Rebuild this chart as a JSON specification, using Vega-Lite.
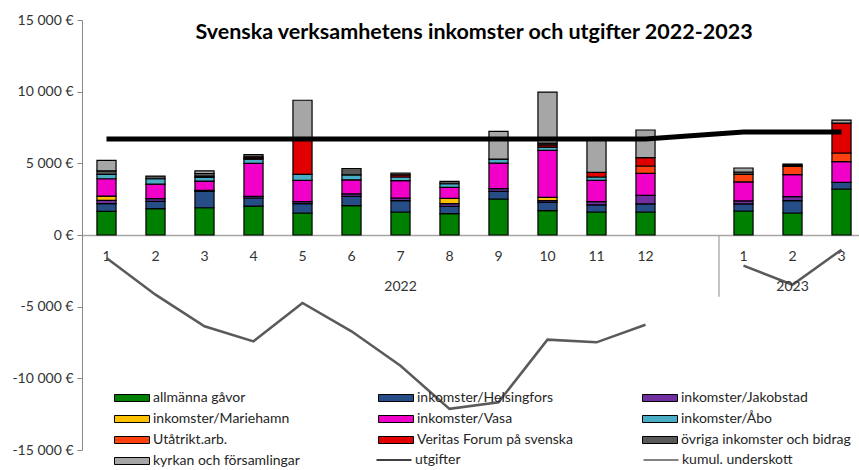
{
  "$schema": "https://vega.github.io/schema/vega-lite/v6.json",
  "width": 784,
  "height": 430,
  "autosize": {"type": "none"},
  "padding": {"left": 82, "top": 20, "right": 0, "bottom": 20},
  "background": "white",
  "config": {"font": "Lato", "view": {"stroke": null}},
  "title": {
    "text": "Svenska verksamhetens inkomster och utgifter 2022-2023",
    "fontSize": 21.5,
    "fontWeight": "bold",
    "font": "Lato",
    "color": "#000000",
    "anchor": "middle",
    "frame": "group",
    "baseline": "middle",
    "offset": -41
  },
  "datasets": {
    "bars": [
      {"cat": "2022-1", "series": "allmänna gåvor", "value": 1650},
      {"cat": "2022-1", "series": "inkomster/Helsingfors", "value": 535},
      {"cat": "2022-1", "series": "inkomster/Jakobstad", "value": 230},
      {"cat": "2022-1", "series": "inkomster/Mariehamn", "value": 300},
      {"cat": "2022-1", "series": "inkomster/Vasa", "value": 1210},
      {"cat": "2022-1", "series": "inkomster/Åbo", "value": 300},
      {"cat": "2022-1", "series": "övriga inkomster och bidrag", "value": 255},
      {"cat": "2022-1", "series": "kyrkan och församlingar", "value": 720},
      {"cat": "2022-2", "series": "allmänna gåvor", "value": 1840},
      {"cat": "2022-2", "series": "inkomster/Helsingfors", "value": 510},
      {"cat": "2022-2", "series": "inkomster/Jakobstad", "value": 185},
      {"cat": "2022-2", "series": "inkomster/Vasa", "value": 1020},
      {"cat": "2022-2", "series": "inkomster/Åbo", "value": 370},
      {"cat": "2022-2", "series": "övriga inkomster och bidrag", "value": 185},
      {"cat": "2022-3", "series": "allmänna gåvor", "value": 1900},
      {"cat": "2022-3", "series": "inkomster/Helsingfors", "value": 1140},
      {"cat": "2022-3", "series": "inkomster/Jakobstad", "value": 70},
      {"cat": "2022-3", "series": "inkomster/Vasa", "value": 650},
      {"cat": "2022-3", "series": "inkomster/Åbo", "value": 255},
      {"cat": "2022-3", "series": "Veritas Forum på svenska", "value": 90},
      {"cat": "2022-3", "series": "övriga inkomster och bidrag", "value": 185},
      {"cat": "2022-3", "series": "kyrkan och församlingar", "value": 185},
      {"cat": "2022-4", "series": "allmänna gåvor", "value": 2020},
      {"cat": "2022-4", "series": "inkomster/Helsingfors", "value": 560},
      {"cat": "2022-4", "series": "inkomster/Jakobstad", "value": 115},
      {"cat": "2022-4", "series": "inkomster/Vasa", "value": 2300},
      {"cat": "2022-4", "series": "inkomster/Åbo", "value": 300},
      {"cat": "2022-4", "series": "Utåtrikt.arb.", "value": 60},
      {"cat": "2022-4", "series": "Veritas Forum på svenska", "value": 100},
      {"cat": "2022-4", "series": "övriga inkomster och bidrag", "value": 160},
      {"cat": "2022-5", "series": "allmänna gåvor", "value": 1535},
      {"cat": "2022-5", "series": "inkomster/Helsingfors", "value": 650},
      {"cat": "2022-5", "series": "inkomster/Jakobstad", "value": 140},
      {"cat": "2022-5", "series": "inkomster/Vasa", "value": 1490},
      {"cat": "2022-5", "series": "inkomster/Åbo", "value": 420},
      {"cat": "2022-5", "series": "Veritas Forum på svenska", "value": 2420},
      {"cat": "2022-5", "series": "kyrkan och församlingar", "value": 2745},
      {"cat": "2022-6", "series": "allmänna gåvor", "value": 2045},
      {"cat": "2022-6", "series": "inkomster/Helsingfors", "value": 650},
      {"cat": "2022-6", "series": "inkomster/Jakobstad", "value": 180},
      {"cat": "2022-6", "series": "inkomster/Vasa", "value": 975},
      {"cat": "2022-6", "series": "inkomster/Åbo", "value": 350},
      {"cat": "2022-6", "series": "övriga inkomster och bidrag", "value": 440},
      {"cat": "2022-7", "series": "allmänna gåvor", "value": 1605},
      {"cat": "2022-7", "series": "inkomster/Helsingfors", "value": 790},
      {"cat": "2022-7", "series": "inkomster/Jakobstad", "value": 185},
      {"cat": "2022-7", "series": "inkomster/Vasa", "value": 1210},
      {"cat": "2022-7", "series": "inkomster/Åbo", "value": 255},
      {"cat": "2022-7", "series": "Veritas Forum på svenska", "value": 150},
      {"cat": "2022-7", "series": "övriga inkomster och bidrag", "value": 130},
      {"cat": "2022-8", "series": "allmänna gåvor", "value": 1490},
      {"cat": "2022-8", "series": "inkomster/Helsingfors", "value": 510},
      {"cat": "2022-8", "series": "inkomster/Jakobstad", "value": 185},
      {"cat": "2022-8", "series": "inkomster/Mariehamn", "value": 370},
      {"cat": "2022-8", "series": "inkomster/Vasa", "value": 770},
      {"cat": "2022-8", "series": "inkomster/Åbo", "value": 250},
      {"cat": "2022-8", "series": "övriga inkomster och bidrag", "value": 160},
      {"cat": "2022-9", "series": "allmänna gåvor", "value": 2510},
      {"cat": "2022-9", "series": "inkomster/Helsingfors", "value": 535},
      {"cat": "2022-9", "series": "inkomster/Jakobstad", "value": 185},
      {"cat": "2022-9", "series": "inkomster/Vasa", "value": 1790},
      {"cat": "2022-9", "series": "inkomster/Åbo", "value": 280},
      {"cat": "2022-9", "series": "kyrkan och församlingar", "value": 1930},
      {"cat": "2022-10", "series": "allmänna gåvor", "value": 1700},
      {"cat": "2022-10", "series": "inkomster/Helsingfors", "value": 580},
      {"cat": "2022-10", "series": "inkomster/Jakobstad", "value": 115},
      {"cat": "2022-10", "series": "inkomster/Mariehamn", "value": 230},
      {"cat": "2022-10", "series": "inkomster/Vasa", "value": 3280},
      {"cat": "2022-10", "series": "inkomster/Åbo", "value": 230},
      {"cat": "2022-10", "series": "Veritas Forum på svenska", "value": 150},
      {"cat": "2022-10", "series": "övriga inkomster och bidrag", "value": 130},
      {"cat": "2022-10", "series": "kyrkan och församlingar", "value": 3560},
      {"cat": "2022-11", "series": "allmänna gåvor", "value": 1605},
      {"cat": "2022-11", "series": "inkomster/Helsingfors", "value": 490},
      {"cat": "2022-11", "series": "inkomster/Jakobstad", "value": 230},
      {"cat": "2022-11", "series": "inkomster/Vasa", "value": 1490},
      {"cat": "2022-11", "series": "inkomster/Åbo", "value": 230},
      {"cat": "2022-11", "series": "Veritas Forum på svenska", "value": 325},
      {"cat": "2022-11", "series": "kyrkan och församlingar", "value": 2395},
      {"cat": "2022-12", "series": "allmänna gåvor", "value": 1605},
      {"cat": "2022-12", "series": "inkomster/Helsingfors", "value": 560},
      {"cat": "2022-12", "series": "inkomster/Jakobstad", "value": 605},
      {"cat": "2022-12", "series": "inkomster/Vasa", "value": 1535},
      {"cat": "2022-12", "series": "Utåtrikt.arb.", "value": 510},
      {"cat": "2022-12", "series": "Veritas Forum på svenska", "value": 580},
      {"cat": "2022-12", "series": "kyrkan och församlingar", "value": 1930},
      {"cat": "2023-1", "series": "allmänna gåvor", "value": 1675},
      {"cat": "2023-1", "series": "inkomster/Helsingfors", "value": 490},
      {"cat": "2023-1", "series": "inkomster/Jakobstad", "value": 210},
      {"cat": "2023-1", "series": "inkomster/Vasa", "value": 1325},
      {"cat": "2023-1", "series": "Utåtrikt.arb.", "value": 535},
      {"cat": "2023-1", "series": "övriga inkomster och bidrag", "value": 160},
      {"cat": "2023-1", "series": "kyrkan och församlingar", "value": 280},
      {"cat": "2023-2", "series": "allmänna gåvor", "value": 1535},
      {"cat": "2023-2", "series": "inkomster/Helsingfors", "value": 860},
      {"cat": "2023-2", "series": "inkomster/Jakobstad", "value": 280},
      {"cat": "2023-2", "series": "inkomster/Vasa", "value": 1535},
      {"cat": "2023-2", "series": "Utåtrikt.arb.", "value": 580},
      {"cat": "2023-2", "series": "Veritas Forum på svenska", "value": 80},
      {"cat": "2023-2", "series": "övriga inkomster och bidrag", "value": 80},
      {"cat": "2023-3", "series": "allmänna gåvor", "value": 3210},
      {"cat": "2023-3", "series": "inkomster/Helsingfors", "value": 465},
      {"cat": "2023-3", "series": "inkomster/Vasa", "value": 1440},
      {"cat": "2023-3", "series": "Utåtrikt.arb.", "value": 605},
      {"cat": "2023-3", "series": "Veritas Forum på svenska", "value": 2090},
      {"cat": "2023-3", "series": "kyrkan och församlingar", "value": 210}
    ],
    "lines": [
      {"cat": "2022-1", "yr": "2022", "series": "utgifter", "value": 6700},
      {"cat": "2022-2", "yr": "2022", "series": "utgifter", "value": 6700},
      {"cat": "2022-3", "yr": "2022", "series": "utgifter", "value": 6700},
      {"cat": "2022-4", "yr": "2022", "series": "utgifter", "value": 6700},
      {"cat": "2022-5", "yr": "2022", "series": "utgifter", "value": 6700},
      {"cat": "2022-6", "yr": "2022", "series": "utgifter", "value": 6700},
      {"cat": "2022-7", "yr": "2022", "series": "utgifter", "value": 6700},
      {"cat": "2022-8", "yr": "2022", "series": "utgifter", "value": 6700},
      {"cat": "2022-9", "yr": "2022", "series": "utgifter", "value": 6700},
      {"cat": "2022-10", "yr": "2022", "series": "utgifter", "value": 6700},
      {"cat": "2022-11", "yr": "2022", "series": "utgifter", "value": 6700},
      {"cat": "2022-12", "yr": "2022", "series": "utgifter", "value": 6700},
      {"cat": "2023-1", "yr": "2023", "series": "utgifter", "value": 7180},
      {"cat": "2023-2", "yr": "2023", "series": "utgifter", "value": 7180},
      {"cat": "2023-3", "yr": "2023", "series": "utgifter", "value": 7180},
      {"cat": "2022-1", "yr": "2022", "series": "kumul. underskott", "value": -1600},
      {"cat": "2022-2", "yr": "2022", "series": "kumul. underskott", "value": -4160},
      {"cat": "2022-3", "yr": "2022", "series": "kumul. underskott", "value": -6370},
      {"cat": "2022-4", "yr": "2022", "series": "kumul. underskott", "value": -7420},
      {"cat": "2022-5", "yr": "2022", "series": "kumul. underskott", "value": -4740},
      {"cat": "2022-6", "yr": "2022", "series": "kumul. underskott", "value": -6720},
      {"cat": "2022-7", "yr": "2022", "series": "kumul. underskott", "value": -9120},
      {"cat": "2022-8", "yr": "2022", "series": "kumul. underskott", "value": -12130},
      {"cat": "2022-9", "yr": "2022", "series": "kumul. underskott", "value": -11670},
      {"cat": "2022-10", "yr": "2022", "series": "kumul. underskott", "value": -7300},
      {"cat": "2022-11", "yr": "2022", "series": "kumul. underskott", "value": -7490},
      {"cat": "2022-12", "yr": "2022", "series": "kumul. underskott", "value": -6260},
      {"cat": "2023-1", "yr": "2023", "series": "kumul. underskott", "value": -2140},
      {"cat": "2023-2", "yr": "2023", "series": "kumul. underskott", "value": -3470},
      {"cat": "2023-3", "yr": "2023", "series": "kumul. underskott", "value": -1025}
    ],
    "years": [
      {"cat": "2022-7", "label": "2022"},
      {"cat": "2023-2", "label": "2023"}
    ],
    "sep": [
      {"cat": "gap"}
    ]
  },
  "layer": [
    {
      "data": {"name": "bars"},
      "transform": [
        {"calculate": "indexof(['allmänna gåvor', 'inkomster/Helsingfors', 'inkomster/Jakobstad', 'inkomster/Mariehamn', 'inkomster/Vasa', 'inkomster/Åbo', 'Utåtrikt.arb.', 'Veritas Forum på svenska', 'övriga inkomster och bidrag', 'kyrkan och församlingar'], datum.series)", "as": "k"}
      ],
      "mark": {"type": "bar", "stroke": "#000000", "strokeWidth": 1.2},
      "encoding": {
        "x": {
          "field": "cat",
          "type": "nominal",
          "scale": {
            "domain": ["2022-1", "2022-2", "2022-3", "2022-4", "2022-5", "2022-6", "2022-7", "2022-8", "2022-9", "2022-10", "2022-11", "2022-12", "gap", "2023-1", "2023-2", "2023-3"],
            "paddingInner": 0.61,
            "paddingOuter": 0.305
          },
          "axis": {
            "title": null,
            "orient": "bottom",
            "offset": -215,
            "labelExpr": "datum.value == 'gap' ? '' : split(datum.value, '-')[1]",
            "ticks": false,
            "labelAngle": 0,
            "labelFontSize": 14,
            "labelColor": "#333333",
            "labelPadding": 14,
            "domainColor": "#A6A6A6",
            "domainWidth": 1.5
          }
        },
        "y": {
          "field": "value",
          "type": "quantitative",
          "stack": "zero",
          "scale": {"domain": [-15000, 15000], "nice": false},
          "axis": {
            "title": null,
            "values": [-15000, -10000, -5000, 0, 5000, 10000, 15000],
            "labelExpr": "(datum.value < 0 ? '-' : '') + replace(format(abs(datum.value), ','), ',', ' ') + ' €'",
            "grid": false,
            "domainColor": "#888888",
            "tickColor": "#888888",
            "tickSize": 5,
            "labelFontSize": 14,
            "labelColor": "#333333",
            "labelPadding": 4
          }
        },
        "fill": {
          "field": "series",
          "type": "nominal",
          "scale": {
            "domain": ["allmänna gåvor", "inkomster/Helsingfors", "inkomster/Jakobstad", "inkomster/Mariehamn", "inkomster/Vasa", "inkomster/Åbo", "Utåtrikt.arb.", "Veritas Forum på svenska", "övriga inkomster och bidrag", "kyrkan och församlingar"],
            "range": ["#008000", "#264D85", "#7030A0", "#FFC000", "#F000C8", "#4BACC6", "#FF4010", "#E00000", "#595959", "#A6A6A6"]
          },
          "legend": {
            "title": null,
            "orient": "none",
            "legendX": 31,
            "legendY": 371,
            "direction": "horizontal",
            "columns": 3,
            "gridAlign": "all",
            "symbolType": "M-3.5,-0.7H3.5V0.7H-3.5Z",
            "symbolSize": 100,
            "symbolStrokeColor": "#000000",
            "symbolStrokeWidth": 1,
            "symbolOffset": 12,
            "labelOffset": 14,
            "labelFontSize": 14,
            "labelColor": "#262626",
            "labelLimit": 400,
            "columnPadding": 53,
            "rowPadding": 7
          }
        },
        "order": {"field": "k", "type": "quantitative"}
      }
    },
    {
      "data": {"name": "lines"},
      "transform": [{"filter": "datum.series == 'utgifter'"}],
      "mark": {"type": "line"},
      "encoding": {
        "x": {"field": "cat", "type": "nominal"},
        "y": {"field": "value", "type": "quantitative"},
        "stroke": {
          "field": "series",
          "type": "nominal",
          "scale": {"domain": ["utgifter", "kumul. underskott"], "range": ["#000000", "#5A5A5A"]},
          "legend": {
            "title": null,
            "orient": "none",
            "legendX": 293,
            "legendY": 433,
            "direction": "horizontal",
            "columns": 2,
            "gridAlign": "all",
            "symbolType": "M-3.5,0H3.5",
            "symbolSize": 100,
            "symbolOffset": 12,
            "labelOffset": 14,
            "labelFontSize": 14,
            "labelColor": "#262626",
            "columnPadding": 114,
            "rowPadding": 7
          }
        },
        "strokeWidth": {
          "field": "series",
          "type": "nominal",
          "scale": {"type": "ordinal", "domain": ["utgifter", "kumul. underskott"], "range": [5, 2.5]}
        }
      }
    },
    {
      "data": {"name": "lines"},
      "transform": [{"filter": "datum.series == 'kumul. underskott'"}],
      "mark": {"type": "line"},
      "encoding": {
        "x": {"field": "cat", "type": "nominal"},
        "y": {"field": "value", "type": "quantitative"},
        "stroke": {"field": "series", "type": "nominal"},
        "strokeWidth": {"field": "series", "type": "nominal"},
        "detail": {"field": "yr", "type": "nominal"}
      }
    },
    {
      "data": {"name": "sep"},
      "mark": {"type": "rule", "color": "#A6A6A6", "strokeWidth": 1.3},
      "encoding": {
        "x": {"field": "cat", "type": "nominal", "bandPosition": 1.782},
        "y": {"datum": 0, "type": "quantitative"},
        "y2": {"datum": -4300}
      }
    },
    {
      "data": {"name": "years"},
      "mark": {"type": "text", "fontSize": 14, "color": "#333333", "baseline": "middle", "font": "Lato"},
      "encoding": {
        "x": {"field": "cat", "type": "nominal"},
        "y": {"datum": -3600, "type": "quantitative"},
        "text": {"field": "label", "type": "nominal"}
      }
    }
  ]
}
